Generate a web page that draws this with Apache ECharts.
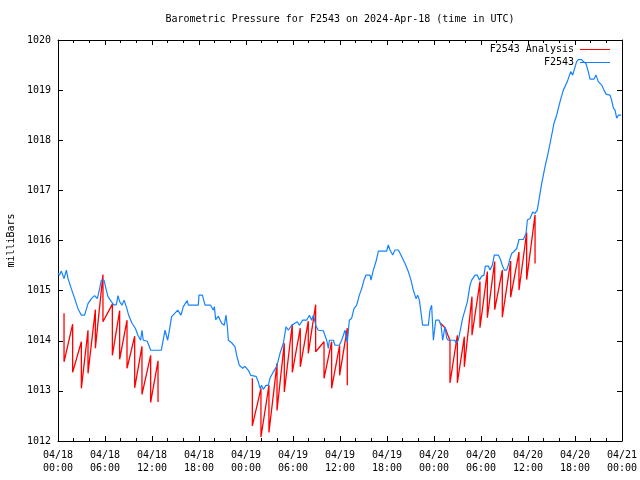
<!DOCTYPE html>
<html>
<head>
<meta charset="utf-8">
<script src="https://cdn.jsdelivr.net/npm/echarts@6/dist/echarts.min.js"></script>
<style>html,body{margin:0;padding:0;background:#fff}#c{width:640px;height:480px}</style>
</head>
<body>
<div id="c"></div>
<script>
// ---- data (hours since 2024-04-18 00:00 UTC) ----
var titleText = 'Barometric Pressure for F2543 on 2024-Apr-18 (time in UTC)';
var yAxisName = 'milliBars';
var seriesNames = ['F2543 Analysis', 'F2543'];

var blueHours = [0.0,0.2,0.43,0.77,1.07,1.28,1.7,2.13,2.55,2.98,3.4,3.83,4.26,4.68,5.02,5.32,5.53,5.87,6.17,6.38,6.81,7.15,7.45,7.66,7.87,8.17,8.43,8.72,9.02,9.45,9.87,10.21,10.55,10.72,10.89,11.4,11.83,13.19,13.66,14.0,14.3,14.5,14.94,15.28,15.7,16.0,16.5,16.64,17.91,18.0,18.43,18.77,19.49,19.83,19.96,20.13,20.47,20.89,21.23,21.45,21.62,21.75,22.17,22.6,22.81,23.15,23.57,23.87,24.3,24.6,25.28,25.57,25.79,26.0,26.21,26.55,26.85,27.06,27.49,27.92,28.34,28.77,29.11,29.4,29.83,30.55,30.81,31.23,31.74,32.09,32.38,32.6,32.94,33.23,33.87,34.3,34.51,34.64,35.15,35.36,35.91,36.22,36.64,36.93,37.19,37.49,37.79,38.13,38.47,38.77,39.06,39.32,39.83,39.96,40.25,40.6,40.9,41.96,42.17,42.38,42.73,43.02,43.45,43.87,44.3,44.72,45.06,45.36,45.7,45.91,46.13,46.3,46.55,47.28,47.49,47.7,47.92,48.22,48.64,48.9,49.11,49.4,49.62,49.83,50.68,50.81,51.1,51.32,51.45,51.66,51.96,52.26,52.6,52.81,53.24,53.53,53.79,54.09,54.38,54.55,54.94,55.15,55.45,55.7,56.21,56.51,56.77,56.98,57.28,57.49,57.7,57.92,58.21,58.56,58.85,59.4,59.75,59.92,60.26,60.6,60.9,61.19,61.4,61.75,62.17,62.6,62.9,63.32,63.66,64.09,64.51,65.02,65.45,65.7,66.21,66.43,66.85,67.06,67.4,67.7,67.92,68.43,68.68,68.98,69.41,69.7,69.96,70.47,70.68,70.9,71.11,71.32,71.53,71.9];
var blueValues = [1015.35,1015.31,1015.39,1015.24,1015.41,1015.24,1015.04,1014.84,1014.64,1014.51,1014.51,1014.74,1014.84,1014.90,1014.84,1015.04,1015.21,1015.21,1015.01,1014.88,1014.78,1014.71,1014.72,1014.90,1014.78,1014.71,1014.81,1014.68,1014.51,1014.35,1014.25,1014.11,1014.01,1014.21,1014.01,1013.99,1013.81,1013.81,1014.21,1014.01,1014.28,1014.48,1014.55,1014.61,1014.51,1014.68,1014.80,1014.71,1014.71,1014.91,1014.91,1014.71,1014.71,1014.61,1014.68,1014.42,1014.49,1014.35,1014.31,1014.51,1014.28,1014.01,1013.96,1013.88,1013.71,1013.51,1013.45,1013.49,1013.41,1013.31,1013.29,1013.18,1013.05,1013.11,1013.03,1013.11,1013.11,1013.25,1013.38,1013.49,1013.75,1013.95,1014.28,1014.21,1014.31,1014.38,1014.31,1014.41,1014.41,1014.51,1014.41,1014.51,1014.29,1014.21,1014.20,1014.01,1013.85,1014.01,1014.01,1013.91,1013.91,1014.01,1014.21,1013.96,1014.41,1014.45,1014.64,1014.71,1014.91,1015.04,1015.21,1015.31,1015.31,1015.21,1015.41,1015.58,1015.79,1015.79,1015.91,1015.81,1015.71,1015.81,1015.81,1015.68,1015.54,1015.38,1015.21,1015.01,1014.84,1014.91,1014.81,1014.61,1014.31,1014.31,1014.61,1014.71,1014.01,1014.41,1014.41,1014.31,1014.01,1014.28,1014.05,1014.01,1014.01,1013.95,1014.01,1014.01,1014.28,1014.45,1014.61,1014.78,1015.11,1015.21,1015.31,1015.31,1015.21,1015.29,1015.31,1015.49,1015.49,1015.41,1015.51,1015.71,1015.71,1015.61,1015.48,1015.41,1015.41,1015.51,1015.64,1015.74,1015.78,1015.84,1016.02,1016.02,1016.14,1016.41,1016.44,1016.57,1016.54,1016.61,1016.81,1017.14,1017.47,1017.77,1018.00,1018.34,1018.50,1018.77,1019.00,1019.17,1019.37,1019.30,1019.57,1019.61,1019.61,1019.57,1019.53,1019.37,1019.22,1019.22,1019.30,1019.17,1019.10,1019.00,1018.92,1018.90,1018.80,1018.64,1018.60,1018.44,1018.50,1018.50];

// Analysis: hourly restarts (drop hour, value before restart, value after restart)
var redHours1   = [0.77,1.87,2.98,3.83,4.77,5.74,6.94,7.87,8.81,9.79,10.72,11.83,12.77];
var redTops1    = [1014.55,1014.33,1013.98,1014.21,1014.62,1015.32,1014.73,1014.60,1014.41,1014.09,1013.89,1013.71,1013.60];
var redBottoms1 = [1013.58,1013.37,1013.05,1013.35,1013.85,1014.38,1013.71,1013.63,1013.45,1013.06,1012.93,1012.77,1012.78];

var redHours2   = [24.81,25.91,26.93,27.96,28.89,29.91,30.93,31.95,32.89,33.96,34.93,35.95,36.93];
var redTops2    = [1013.25,1013.05,1013.11,1013.55,1013.95,1014.33,1014.25,1014.39,1014.72,1013.98,1013.98,1013.91,1014.25];
var redBottoms2 = [1012.30,1012.08,1012.17,1012.61,1012.98,1013.37,1013.48,1013.75,1013.78,1013.25,1013.05,1013.31,1013.11];

var redLeadHours3  = [48.77,49.45,49.75];
var redLeadValues3 = [1014.36,1014.25,1014.12];
var redHours3   = [50.04,50.98,51.87,52.85,53.87,54.81,55.75,56.72,57.79,58.85,59.83,60.90];
var redTops3    = [1014.01,1014.11,1014.08,1014.88,1015.18,1015.38,1015.58,1015.41,1015.59,1015.77,1016.16,1016.51];
var redBottoms3 = [1013.16,1013.16,1013.48,1014.11,1014.26,1014.46,1014.62,1014.47,1014.87,1015.01,1015.22,1015.54];

// ---- build ----
function pairs(xs, ys) { return xs.map(function (x, i) { return [x, ys[i]]; }); }
function saw(hours, tops, bottoms, leadH, leadV) {
  var out = leadH ? pairs(leadH, leadV) : [];
  hours.forEach(function (h, i) { out.push([h, tops[i]]); out.push([h, bottoms[i]]); });
  return out;
}
var FONT = '"DejaVu Sans Mono", "Liberation Mono", monospace';
var RED = '#ff0000', BLUE = '#1482ff';

function xLabel(v) {
  var day = 18 + Math.floor(v / 24);
  var hr = v % 24;
  return '04/' + String(day).padStart(2, '0') + '\n' + String(hr).padStart(2, '0') + ':00';
}
function xAxisCfg(pos, labels) {
  return {
    type: 'value', position: pos, min: 0, max: 72, interval: 6,
    axisLine: { show: true, onZero: false, lineStyle: { color: '#000', width: 1 } },
    axisTick: { show: true, inside: true, length: 5, lineStyle: { color: '#000' } },
    minorTick: { show: true, splitNumber: 3, length: 3, lineStyle: { color: '#000' } },
    splitLine: { show: false },
    axisLabel: { show: labels, formatter: xLabel, color: '#000', fontFamily: FONT, fontSize: 10, lineHeight: 13, margin: 8 }
  };
}
function yAxisCfg(pos, labels) {
  var c = {
    type: 'value', position: pos, min: 1012, max: 1020, interval: 1,
    axisLine: { show: true, onZero: false, lineStyle: { color: '#000', width: 1 } },
    axisTick: { show: true, inside: true, length: 5, lineStyle: { color: '#000' } },
    splitLine: { show: false },
    axisLabel: { show: labels, formatter: function (v) { return String(v); }, color: '#000', fontFamily: FONT, fontSize: 10, margin: 7 }
  };
  if (labels) {
    c.name = yAxisName; c.nameLocation = 'middle'; c.nameRotate = 90; c.nameGap = 41;
    c.nameTextStyle = { color: '#000', fontFamily: FONT, fontSize: 10 };
  }
  return c;
}

var chart = echarts.init(document.getElementById('c'), null, { renderer: 'canvas' });
var redStyle = { color: RED, width: 1.3 };
chart.setOption({
  animation: false,
  backgroundColor: '#fff',
  grid: { left: 58, right: 18, top: 40, bottom: 39, containLabel: false, outerBoundsMode: 'none' },
  xAxis: [xAxisCfg('bottom', true), xAxisCfg('top', false)],
  yAxis: [yAxisCfg('left', true), yAxisCfg('right', false)],
  series: [
    { name: seriesNames[0], type: 'line', showSymbol: false, symbol: 'none', lineStyle: redStyle, itemStyle: { color: RED }, z: 2, data: saw(redHours1, redTops1, redBottoms1) },
    { name: seriesNames[0], type: 'line', showSymbol: false, symbol: 'none', lineStyle: redStyle, itemStyle: { color: RED }, z: 2, data: saw(redHours2, redTops2, redBottoms2) },
    { name: seriesNames[0], type: 'line', showSymbol: false, symbol: 'none', lineStyle: redStyle, itemStyle: { color: RED }, z: 2, data: saw(redHours3, redTops3, redBottoms3, redLeadHours3, redLeadValues3) },
    { name: seriesNames[1], type: 'line', showSymbol: false, symbol: 'none', lineStyle: { color: BLUE, width: 1.2 }, itemStyle: { color: BLUE }, z: 3, data: pairs(blueHours, blueValues) }
  ],
  graphic: [
    { type: 'text', x: 340, y: 19, style: { text: titleText, fill: '#000', font: '10px ' + FONT, textAlign: 'center', textVerticalAlign: 'middle' } },
    { type: 'text', x: 574, y: 49, style: { text: seriesNames[0], fill: '#000', font: '10px ' + FONT, textAlign: 'right', textVerticalAlign: 'middle' } },
    { type: 'line', shape: { x1: 580, y1: 49.5, x2: 610, y2: 49.5 }, style: { stroke: RED, lineWidth: 1 } },
    { type: 'text', x: 574, y: 62, style: { text: seriesNames[1], fill: '#000', font: '10px ' + FONT, textAlign: 'right', textVerticalAlign: 'middle' } },
    { type: 'line', shape: { x1: 580, y1: 62.5, x2: 610, y2: 62.5 }, style: { stroke: BLUE, lineWidth: 1 } }
  ]
});
</script>
</body>
</html>
